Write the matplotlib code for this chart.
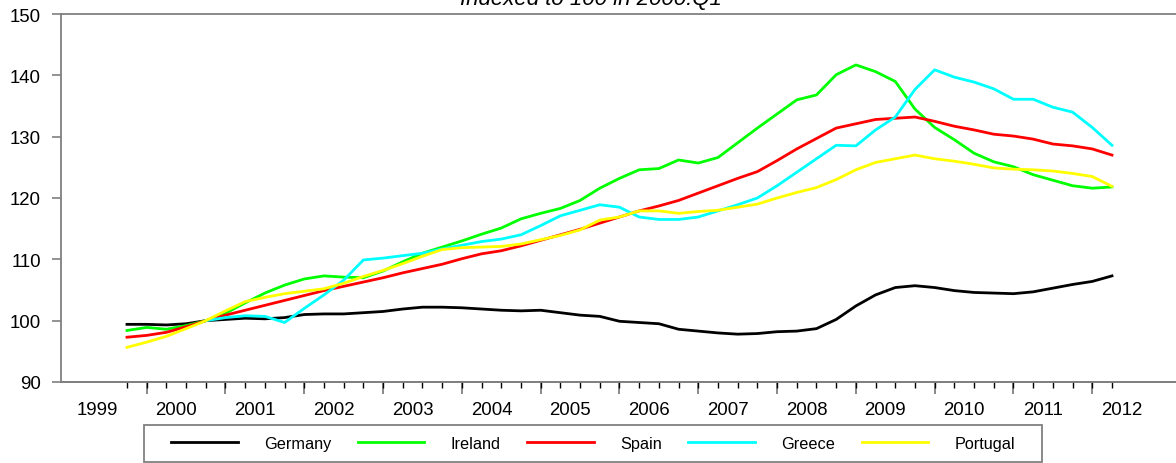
import numpy as np
import matplotlib
matplotlib.use("Agg")
import matplotlib.pyplot as plt
from matplotlib.patches import Rectangle

plt.rcParams['font.family'] = ['Liberation Sans', 'DejaVu Sans']

# quarterly data, 1999Q1 .. 2011Q3, indexed to 100 in 2000Q1
germany = [99.4, 99.4, 99.3, 99.5, 100.0, 100.2, 100.4, 100.3, 100.5, 101.0,
           101.1, 101.1, 101.3, 101.5, 101.9, 102.2, 102.2, 102.1, 101.9, 101.7,
           101.6, 101.7, 101.3, 100.9, 100.7, 99.9, 99.7, 99.5, 98.6, 98.3,
           98.0, 97.8, 97.9, 98.2, 98.3, 98.7, 100.2, 102.4, 104.2, 105.4,
           105.7, 105.4, 104.9, 104.6, 104.5, 104.4, 104.7, 105.3, 105.9, 106.4,
           107.3]
ireland = [98.4, 98.9, 98.6, 99.2, 100.0, 101.2, 102.9, 104.5, 105.8, 106.8,
           107.3, 107.1, 107.0, 108.1, 109.6, 111.0, 112.0, 113.0, 114.1, 115.1,
           116.6, 117.5, 118.3, 119.6, 121.6, 123.2, 124.6, 124.8, 126.2, 125.7,
           126.6, 129.0, 131.4, 133.7, 136.0, 136.8, 140.1, 141.7, 140.6, 139.0,
           134.5, 131.5, 129.5, 127.3, 125.9, 125.1, 123.8, 122.9, 122.0, 121.6,
           121.8]
spain = [97.3, 97.6, 98.1, 99.0, 100.0, 100.9, 101.7, 102.5, 103.3, 104.1,
         104.9, 105.6, 106.3, 107.0, 107.8, 108.5, 109.2, 110.1, 110.9, 111.4,
         112.2, 113.1, 114.0, 114.9, 115.9, 116.9, 117.9, 118.7, 119.6, 120.8,
         122.0, 123.2, 124.3, 126.1, 128.0, 129.7, 131.4, 132.1, 132.8, 133.0,
         133.2, 132.5, 131.7, 131.1, 130.4, 130.1, 129.6, 128.8, 128.5, 128.0,
         127.0]
greece = [np.nan, np.nan, np.nan, np.nan, 100.0, 100.5, 100.8, 100.7, 99.7, 102.0,
          104.2, 106.6, 109.9, 110.2, 110.6, 111.0, 111.7, 112.3, 112.9, 113.3,
          114.0, 115.5, 117.1, 118.0, 118.9, 118.5, 116.9, 116.5, 116.5, 116.9,
          117.9, 118.9, 120.0, 122.0, 124.2, 126.4, 128.6, 128.5, 131.1, 133.2,
          137.7, 140.9, 139.7, 138.9, 137.8, 136.1, 136.1, 134.8, 134.0, 131.5,
          128.6]
portugal = [95.65, 96.5, 97.45, 98.7, 100.0, 101.6, 103.1, 103.8, 104.4, 104.8,
            105.2, 106.1, 107.2, 108.2, 109.3, 110.5, 111.6, 111.9, 112.0, 112.1,
            112.5, 113.2, 113.9, 114.8, 116.4, 116.9, 117.9, 117.9, 117.5, 117.8,
            118.0, 118.5, 119.0, 120.0, 120.9, 121.7, 123.0, 124.6, 125.8, 126.4,
            127.0, 126.4, 126.0, 125.5, 124.9, 124.7, 124.6, 124.4, 124.0, 123.5,
            121.9]
years = [str(y) for y in range(1999, 2013)]

series = [("Germany", germany, "black"),
          ("Ireland", ireland, "#00ff00"),
          ("Spain", spain, "#ff0000"),
          ("Greece", greece, "#00ffff"),
          ("Portugal", portugal, "#ffff00")]

x = np.arange(len(germany))
grey = "#808080"

fig = plt.figure(figsize=(11.76, 4.64), dpi=100)
ax = fig.add_axes([61 / 1176, 81 / 464, 1 - 61 / 1176, 368 / 464])

for name, vals, col in series:
    ax.plot(x, vals, color=col, lw=2.0, label=name)

ax.set_xlim(-3.35, 53.25)
ax.set_ylim(90, 150)

for s in ["left", "top", "bottom"]:
    ax.spines[s].set_color(grey)
    ax.spines[s].set_linewidth(1.3)
ax.spines["right"].set_visible(False)

ax.set_yticks(range(90, 151, 10))
ax.tick_params(axis="y", direction="out", length=6.5, color=grey, width=1.2,
               labelsize=13.4, pad=8)

# year labels sit between the quarter marks
ax.set_xticks([4 * k - 1.5 for k in range(len(years))])
ax.set_xticklabels(years)
ax.set_xticks(x, minor=True)
ax.tick_params(axis="x", which="major", length=0, labelsize=13.4, pad=14)
ax.tick_params(axis="x", which="minor", length=4.3, color="black", width=1.0)

sec = ax.secondary_xaxis("bottom")
sec.set_xticks(x[1::4])
sec.tick_params(length=8.6, color=grey, width=1.3, labelbottom=False)
sec.spines["bottom"].set_color(grey)
sec.spines["bottom"].set_linewidth(1.3)

fig.text(0.5025, 1 - 5 / 464, "Indexed to 100 in 2000:Q1", ha="center",
         va="baseline", fontsize=16, style="italic")

# legend box under the axis
fig.patches.append(Rectangle((144 / 1176, 1 / 464), 898 / 1176, 37 / 464,
                             transform=fig.transFigure, fill=False,
                             edgecolor=grey, lw=1.3))
fig.legend(loc="center", bbox_to_anchor=(593 / 1176, 19.5 / 464), ncol=5,
           frameon=False, fontsize=11.7, handlelength=4.1, handletextpad=1.6,
           columnspacing=1.65, borderpad=0.3)

fig.savefig("out.png", dpi=100)
